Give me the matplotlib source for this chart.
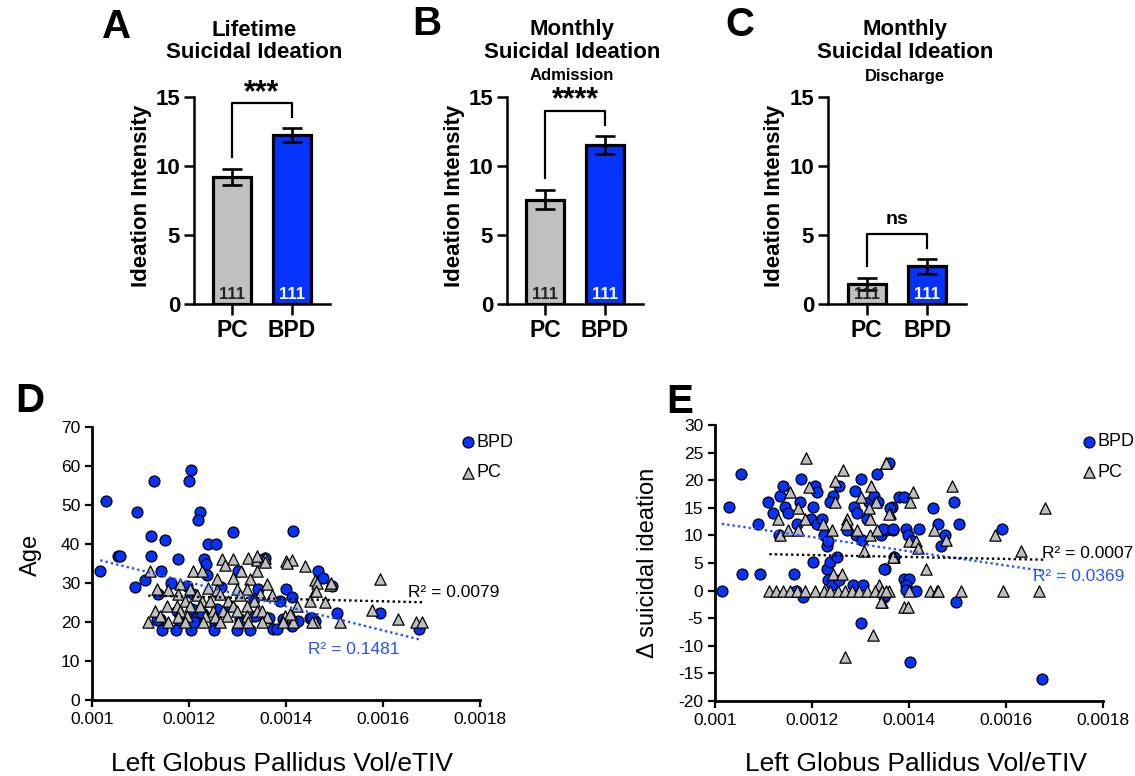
import numpy as np
import matplotlib
matplotlib.use("Agg")
import matplotlib.pyplot as plt

plt.rcParams['font.family'] = ['Liberation Sans', 'DejaVu Sans']
plt.rcParams['axes.unicode_minus'] = False

W, H = 1135, 776

GRAY = '#C0C0C0'
BLUE = '#0433FF'
LINE_BLUE = '#2553FF'

# ---- bar panels (A, B, C) ----
groups = ['PC', 'BPD']
n_labels = ['111', '111']
lifetime_mean = [9.2, 12.25]
lifetime_sem = [0.6, 0.5]
admission_mean = [7.55, 11.55]
admission_sem = [0.7, 0.65]
discharge_mean = [1.45, 2.72]
discharge_sem = [0.47, 0.52]
sig_labels = ['***', '****', 'ns']

# ---- scatter panels (D, E) ----
d_bpd_x = [0.001017, 0.001029, 0.001053, 0.001057, 0.001093, 0.001089, 0.001127, 0.001122, 0.001122, 0.00115,
           0.00111, 0.001142, 0.001162, 0.001178, 0.001205, 0.0012, 0.001222, 0.001219, 0.00124, 0.001255,
           0.00129, 0.001231, 0.001235, 0.001238, 0.001301, 0.001137, 0.001195, 0.001209, 0.001175, 0.001206,
           0.00114, 0.001229, 0.001257, 0.001285, 0.001333, 0.001343, 0.001357, 0.001364, 0.001394, 0.001388,
           0.0014, 0.001412, 0.001415, 0.001425, 0.00145, 0.00146, 0.001467, 0.001477, 0.001494, 0.001505,
           0.001593, 0.001675, 0.001305, 0.001336, 0.001181, 0.001212, 0.001254, 0.001145, 0.001173, 0.001205,
           0.001251, 0.001299, 0.001326, 0.001374, 0.001381, 0.001412, 0.001134, 0.00121, 0.001227, 0.001265,
           0.001347, 0.001306, 0.001453]
d_bpd_y = [33.0, 51.1, 37.0, 37.0, 48.1, 29.1, 56.1, 42.1, 37.0, 41.1,
           30.8, 33.0, 30.1, 36.1, 59.1, 56.1, 48.1, 46.1, 40.1, 40.1,
           43.1, 36.1, 34.9, 32.1, 33.0, 27.1, 29.3, 27.1, 22.8, 23.3,
           20.7, 22.0, 23.3, 24.1, 25.8, 28.4, 36.3, 21.1, 20.7, 25.4,
           28.4, 26.3, 43.3, 20.2, 21.1, 20.2, 33.2, 31.2, 29.3, 22.4,
           22.4, 18.1, 20.7, 21.5, 19.8, 20.7, 19.4, 18.0, 18.0, 18.0,
           18.0, 18.0, 18.0, 18.1, 18.1, 19.0, 20.5, 20.1, 22.3, 29.1,
           36.0, 19.7, 21.1]
d_pc_x = [0.001269, 0.00129, 0.001322, 0.00134, 0.001357, 0.001401, 0.001412,
          0.001274, 0.001439,
          0.00112, 0.001209, 0.001226, 0.001307, 0.00134,
          0.001257, 0.001291, 0.001326, 0.00146,
          0.001181, 0.00136, 0.001491,
          0.001133, 0.001157, 0.001202, 0.00124, 0.001257, 0.001298, 0.001319, 0.00146,
          0.001178, 0.001216, 0.001264, 0.001305, 0.001346, 0.001371,
          0.001192, 0.001226, 0.001243, 0.001281, 0.001333, 0.00145, 0.00148,
          0.001154, 0.001175, 0.001202, 0.001223, 0.001291, 0.001319, 0.001422,
          0.00113, 0.001181, 0.00125, 0.001271, 0.001298, 0.00134, 0.00135,
          0.00114, 0.001178, 0.001195, 0.001233, 0.001254, 0.001278, 0.001319, 0.00136, 0.001398, 0.001412,
          0.001116, 0.001157, 0.001192, 0.001229, 0.001264, 0.001302, 0.001322, 0.00135, 0.001394, 0.001415,
          0.00146, 0.001511,
          0.001593, 0.001463, 0.001461, 0.001492, 0.001578, 0.001631, 0.001668, 0.001681, 0.001453,
          0.001357, 0.00134, 0.001408, 0.001403]
d_pc_y = [36.2, 36.2, 36.4, 36.0, 36.3, 35.6, 36.0,
          34.5, 34.3,
          33.0, 33.2, 33.2, 33.2, 33.0,
          31.0, 31.2, 31.0, 30.8,
          29.7, 29.8, 29.6,
          28.4, 28.2, 28.4, 28.6, 28.3, 28.4, 28.5, 28.0,
          27.1, 27.0, 27.2, 27.0, 27.1, 26.9,
          25.4, 25.5, 25.3, 25.4, 25.4, 25.3, 25.2,
          24.1, 24.0, 24.2, 24.1, 24.0, 24.2, 24.1,
          22.8, 22.7, 22.9, 22.8, 22.7, 22.8, 22.9,
          21.5, 21.4, 21.6, 21.5, 21.4, 21.5, 21.6, 21.4, 21.5, 21.6,
          20.0, 20.0, 20.1, 19.9, 20.0, 20.0, 20.1, 19.9, 20.0, 20.1,
          20.0, 20.0,
          31.0, 30.1, 28.0, 30.1, 23.1, 20.8, 20.0, 20.0, 20.0,
          35.3, 37.0, 22.0, 35.1]

e_bpd_x = [0.001014, 0.001028, 0.001053, 0.001055, 0.001093, 0.001088, 0.00111, 0.001119, 0.001134, 0.001141,
           0.001145, 0.00115, 0.001131, 0.001163, 0.001176, 0.00117, 0.001178, 0.001167, 0.001181, 0.001202,
           0.001207, 0.00121, 0.001197, 0.00121, 0.001202, 0.001221, 0.001224, 0.00123, 0.001234, 0.00123,
           0.001237, 0.001243, 0.001252, 0.001255, 0.001237, 0.001234, 0.001241, 0.001255, 0.001272, 0.001286,
           0.001288, 0.001302, 0.001293, 0.00129, 0.0013, 0.001285, 0.001306, 0.001317, 0.001328, 0.001333,
           0.001359, 0.001343, 0.001352, 0.00135, 0.001364, 0.001368, 0.001348, 0.001303, 0.001337, 0.001314,
           0.001379, 0.001389, 0.001361, 0.00145, 0.001493, 0.00146, 0.001503, 0.001346, 0.001366, 0.001394,
           0.001421, 0.001398, 0.001406, 0.001474, 0.001466, 0.001592, 0.00137, 0.001348, 0.001389, 0.0014,
           0.001394, 0.001393, 0.001414, 0.00135, 0.001497, 0.001403, 0.001674]
e_bpd_y = [0.0, 15.1, 21.1, 3.0, 3.0, 12.1, 16.0, 14.0, 17.1, 19.0,
           15.2, 14.0, 10.1, 3.0, 16.0, 12.1, 20.2, 0.0, -1.1, 15.1,
           19.0, 17.9, 13.0, 12.1, 5.1, 13.0, 10.1, 8.0, 9.0, 4.0,
           5.1, 17.1, 6.0, 19.0, 16.0, 1.9, 1.0, 1.9, 11.0, 15.1,
           18.1, 20.2, 14.0, 10.1, -5.9, 1.0, 1.0, 16.0, 17.1, 21.1,
           23.1, 10.1, 11.0, 4.0, 15.1, 11.0, -1.1, 9.2, 16.0, 13.0,
           17.0, 17.0, 15.0, 15.0, 16.0, 12.1, 12.1, 11.1, 11.1, 11.1,
           11.1, 10.1, 8.9, 10.1, 8.0, 11.1, 6.0, 4.0, 2.1, 2.1,
           1.0, 0.1, 0.0, -0.8, -2.0, -13.0, -16.0]
e_pc_x = [0.001188, 0.001263, 0.001154, 0.001193, 0.001248, 0.001352, 0.001322, 0.0013, 0.001248, 0.001171,
          0.00113, 0.001134, 0.00115, 0.001172, 0.001185, 0.001223, 0.001241, 0.001272, 0.001271, 0.001293,
          0.00132, 0.00132, 0.001334, 0.00136, 0.001332, 0.001317, 0.001308, 0.001369, 0.001243, 0.001261,
          0.001339, 0.001345, 0.001326, 0.001268,
          0.001112, 0.001126, 0.00114, 0.001155, 0.00117, 0.001185, 0.001207, 0.001224, 0.001238, 0.001254,
          0.001268, 0.001283, 0.001297, 0.001314, 0.001329, 0.001345, 0.001359,
          0.001353, 0.001408, 0.001403, 0.001358, 0.001488, 0.001681, 0.001452, 0.001477, 0.001577, 0.0014,
          0.001414, 0.001419, 0.001367, 0.001631, 0.001436, 0.001353, 0.001401, 0.001443, 0.001457, 0.00146,
          0.001508, 0.001594, 0.001669, 0.001343, 0.001389, 0.001398]
e_pc_y = [24.0, 21.9, 17.9, 18.8, 19.9, 23.1, 19.0, 17.0, 16.0, 14.9,
          13.0, 10.1, 11.0, 11.0, 13.0, 12.0, 11.0, 13.0, 12.0, 11.0,
          13.0, 10.1, 11.0, 14.0, 16.0, 14.9, 7.1, 6.0, 3.0, 3.0,
          1.0, -2.0, -8.0, -12.1,
          0, 0, 0, 0, 0, 0, 0, 0, 0, 0,
          0, 0, 0, 0, 0, 0, 0,
          23.1, 17.9, 16.0, 13.9, 19.0, 14.9, 11.0, 9.2, 10.0, 8.9,
          8.9, 7.8, 6.0, 7.1, 4.0, 0, 0, 0, 0, 0,
          0, 0, 0, -2.0, -2.9, -2.9]

# linear trend lines (slope, intercept) and R² as printed
d_bpd_fit = (-30851.0, 67.2)
d_pc_fit = (-2993.0, 30.1)
e_bpd_fit = (-12879.0, 25.16)
e_pc_fit = (-1757.0, 8.55)
d_r2 = ['0.1481', '0.0079']
e_r2 = ['0.0369', '0.0007']

x_ticks = [0.001, 0.0012, 0.0014, 0.0016, 0.0018]
x_tick_labels = ['0.001', '0.0012', '0.0014', '0.0016', '0.0018']


def fx(px):
    return px / W


def fy(py):
    return 1 - py / H


fig = plt.figure(figsize=(W / 100, H / 100), dpi=100)


def bar_panel(left_px, right_px, means, sems, sig):
    ax = fig.add_axes([fx(left_px), fy(304), (right_px - left_px) / W, 207 / H])
    x = np.arange(len(groups))
    ax.bar(x, means, width=0.63, color=[GRAY, BLUE], edgecolor='black', linewidth=2.3, zorder=2)
    ax.errorbar(x, means, yerr=sems, fmt='none', ecolor='black', elinewidth=1.9,
                capsize=7, capthick=1.9, zorder=3)
    tops = np.array(means) + np.array(sems)
    top = tops.max() + 1.8
    ax.plot([0, 0, 1, 1], [tops[0] + 0.85, top, top, tops[1] + 0.8], color='black', lw=1.6, zorder=3)
    if sig == 'ns':
        ax.text(0.5, top + 0.45, sig, ha='center', va='bottom', fontsize=14, fontweight='bold')
    else:
        ax.text(0.5, top - 0.35, sig, ha='center', va='bottom', fontsize=22, fontweight='bold')
    for i in range(len(groups)):
        ax.text(x[i], 0.15, n_labels[i], ha='center', va='bottom', fontsize=12, fontweight='bold',
                color='white' if i == 1 else '#222222', zorder=4)
    ax.set_xlim(-0.64, 1.64)
    ax.set_ylim(0, 15)
    ax.set_yticks([0, 5, 10, 15])
    ax.set_xticks(x)
    ax.set_xticklabels(groups, fontsize=16.5, fontweight='bold')
    for lbl in ax.get_yticklabels():
        lbl.set_fontweight('bold')
        lbl.set_fontsize(16)
    ax.tick_params(axis='y', length=7, width=1.8, pad=3)
    ax.tick_params(axis='x', length=8, width=1.8, pad=3)
    for s in ['top', 'right']:
        ax.spines[s].set_visible(False)
    for s in ['left', 'bottom']:
        ax.spines[s].set_linewidth(1.8)
    ax.set_ylabel('Ideation Intensity', fontsize=16, fontweight='bold')
    ax.yaxis.set_label_coords(-0.31, 0.52)
    ax.patch.set_alpha(0)
    return ax


bar_panel(194, 330, lifetime_mean, lifetime_sem, sig_labels[0])
bar_panel(507, 643, admission_mean, admission_sem, sig_labels[1])
bar_panel(828, 966, discharge_mean, discharge_sem, sig_labels[2])

# panel letters and titles
for letter, px, py in [('A', 117, 27), ('B', 427, 24), ('C', 740, 25), ('D', 30, 401), ('E', 680, 402)]:
    fig.text(fx(px), fy(py), letter, fontsize=29, fontweight='bold', ha='center', va='center')

fig.text(fx(254), fy(30), 'Lifetime', fontsize=16, fontweight='bold', ha='center', va='center')
fig.text(fx(254), fy(53), 'Suicidal Ideation', fontsize=16, fontweight='bold', ha='center', va='center')
for cx, sub in [(572, 'Admission'), (905, 'Discharge')]:
    fig.text(fx(cx), fy(30), 'Monthly', fontsize=16, fontweight='bold', ha='center', va='center')
    fig.text(fx(cx), fy(53), 'Suicidal Ideation', fontsize=16, fontweight='bold', ha='center', va='center')
    fig.text(fx(cx), fy(76), sub, fontsize=12, fontweight='bold', ha='center', va='center')


def scatter_panel(rect, bx, by, px_, py_, bfit, pfit, r2, r2_pos, ylim, yticks, ylabel, ylab_xy, xlab_xy, leg_anchor):
    ax = fig.add_axes(rect)
    hb = ax.scatter(bx, by, s=62, marker='o', facecolor=BLUE, edgecolor='black', linewidths=0.9,
                    zorder=3, label='BPD')
    hp = ax.scatter(px_, py_, s=66, marker='^', facecolor='#BEBEBE', edgecolor='black', linewidths=0.9,
                    zorder=4, label='PC')
    xs = np.array([min(bx), max(bx)])
    ax.plot(xs, bfit[0] * xs + bfit[1], color=LINE_BLUE, lw=1.7, ls=(0, (1, 1.3)), zorder=5)
    xs = np.array([min(px_), max(px_)])
    ax.plot(xs, pfit[0] * xs + pfit[1], color='black', lw=1.7, ls=(0, (1, 1.3)), zorder=5)
    ax.text(r2_pos[0][0], r2_pos[0][1], 'R² = ' + r2[0], color=LINE_BLUE, fontsize=12.5, va='center')
    ax.text(r2_pos[1][0], r2_pos[1][1], 'R² = ' + r2[1], color='black', fontsize=12.5, va='center')
    ax.set_xlim(0.001, 0.0018)
    ax.set_ylim(*ylim)
    ax.set_xticks(x_ticks)
    ax.set_xticklabels(x_tick_labels)
    ax.set_yticks(yticks)
    ax.tick_params(labelsize=12.5, length=5, width=1.6)
    for s in ['top', 'right']:
        ax.spines[s].set_visible(False)
    for s in ['left', 'bottom']:
        ax.spines[s].set_linewidth(2.0)
    ax.set_ylabel(ylabel, fontsize=17)
    ax.yaxis.set_label_coords(*ylab_xy)
    ax.set_xlabel('Left Globus Pallidus Vol/eTIV', fontsize=19)
    ax.xaxis.set_label_coords(*xlab_xy)
    ax.legend(handles=[hb, hp], loc='upper left', bbox_to_anchor=leg_anchor, frameon=False,
              fontsize=13, handlelength=0.6, handletextpad=0.15, labelspacing=0.75, borderpad=0,
              borderaxespad=0)
    return ax


scatter_panel([fx(92), fy(700), 388 / W, 273 / H], d_bpd_x, d_bpd_y, d_pc_x, d_pc_y,
              d_bpd_fit, d_pc_fit, d_r2, [(0.001445, 12.9), (0.001652, 27.6)],
              (0, 70), np.arange(0, 71, 10), 'Age', (-0.13, 0.53), (0.49, -0.19), (0.955, 0.975))
scatter_panel([fx(715), fy(701), 388 / W, 276 / H], e_bpd_x, e_bpd_y, e_pc_x, e_pc_y,
              e_bpd_fit, e_pc_fit, e_r2, [(0.001656, 2.6), (0.001674, 6.8)],
              (-20, 30), np.arange(-20, 31, 5), 'Δ suicidal ideation', (-0.145, 0.5), (0.517, -0.185),
              (0.95, 0.97))

fig.savefig('out.png', dpi=100)
